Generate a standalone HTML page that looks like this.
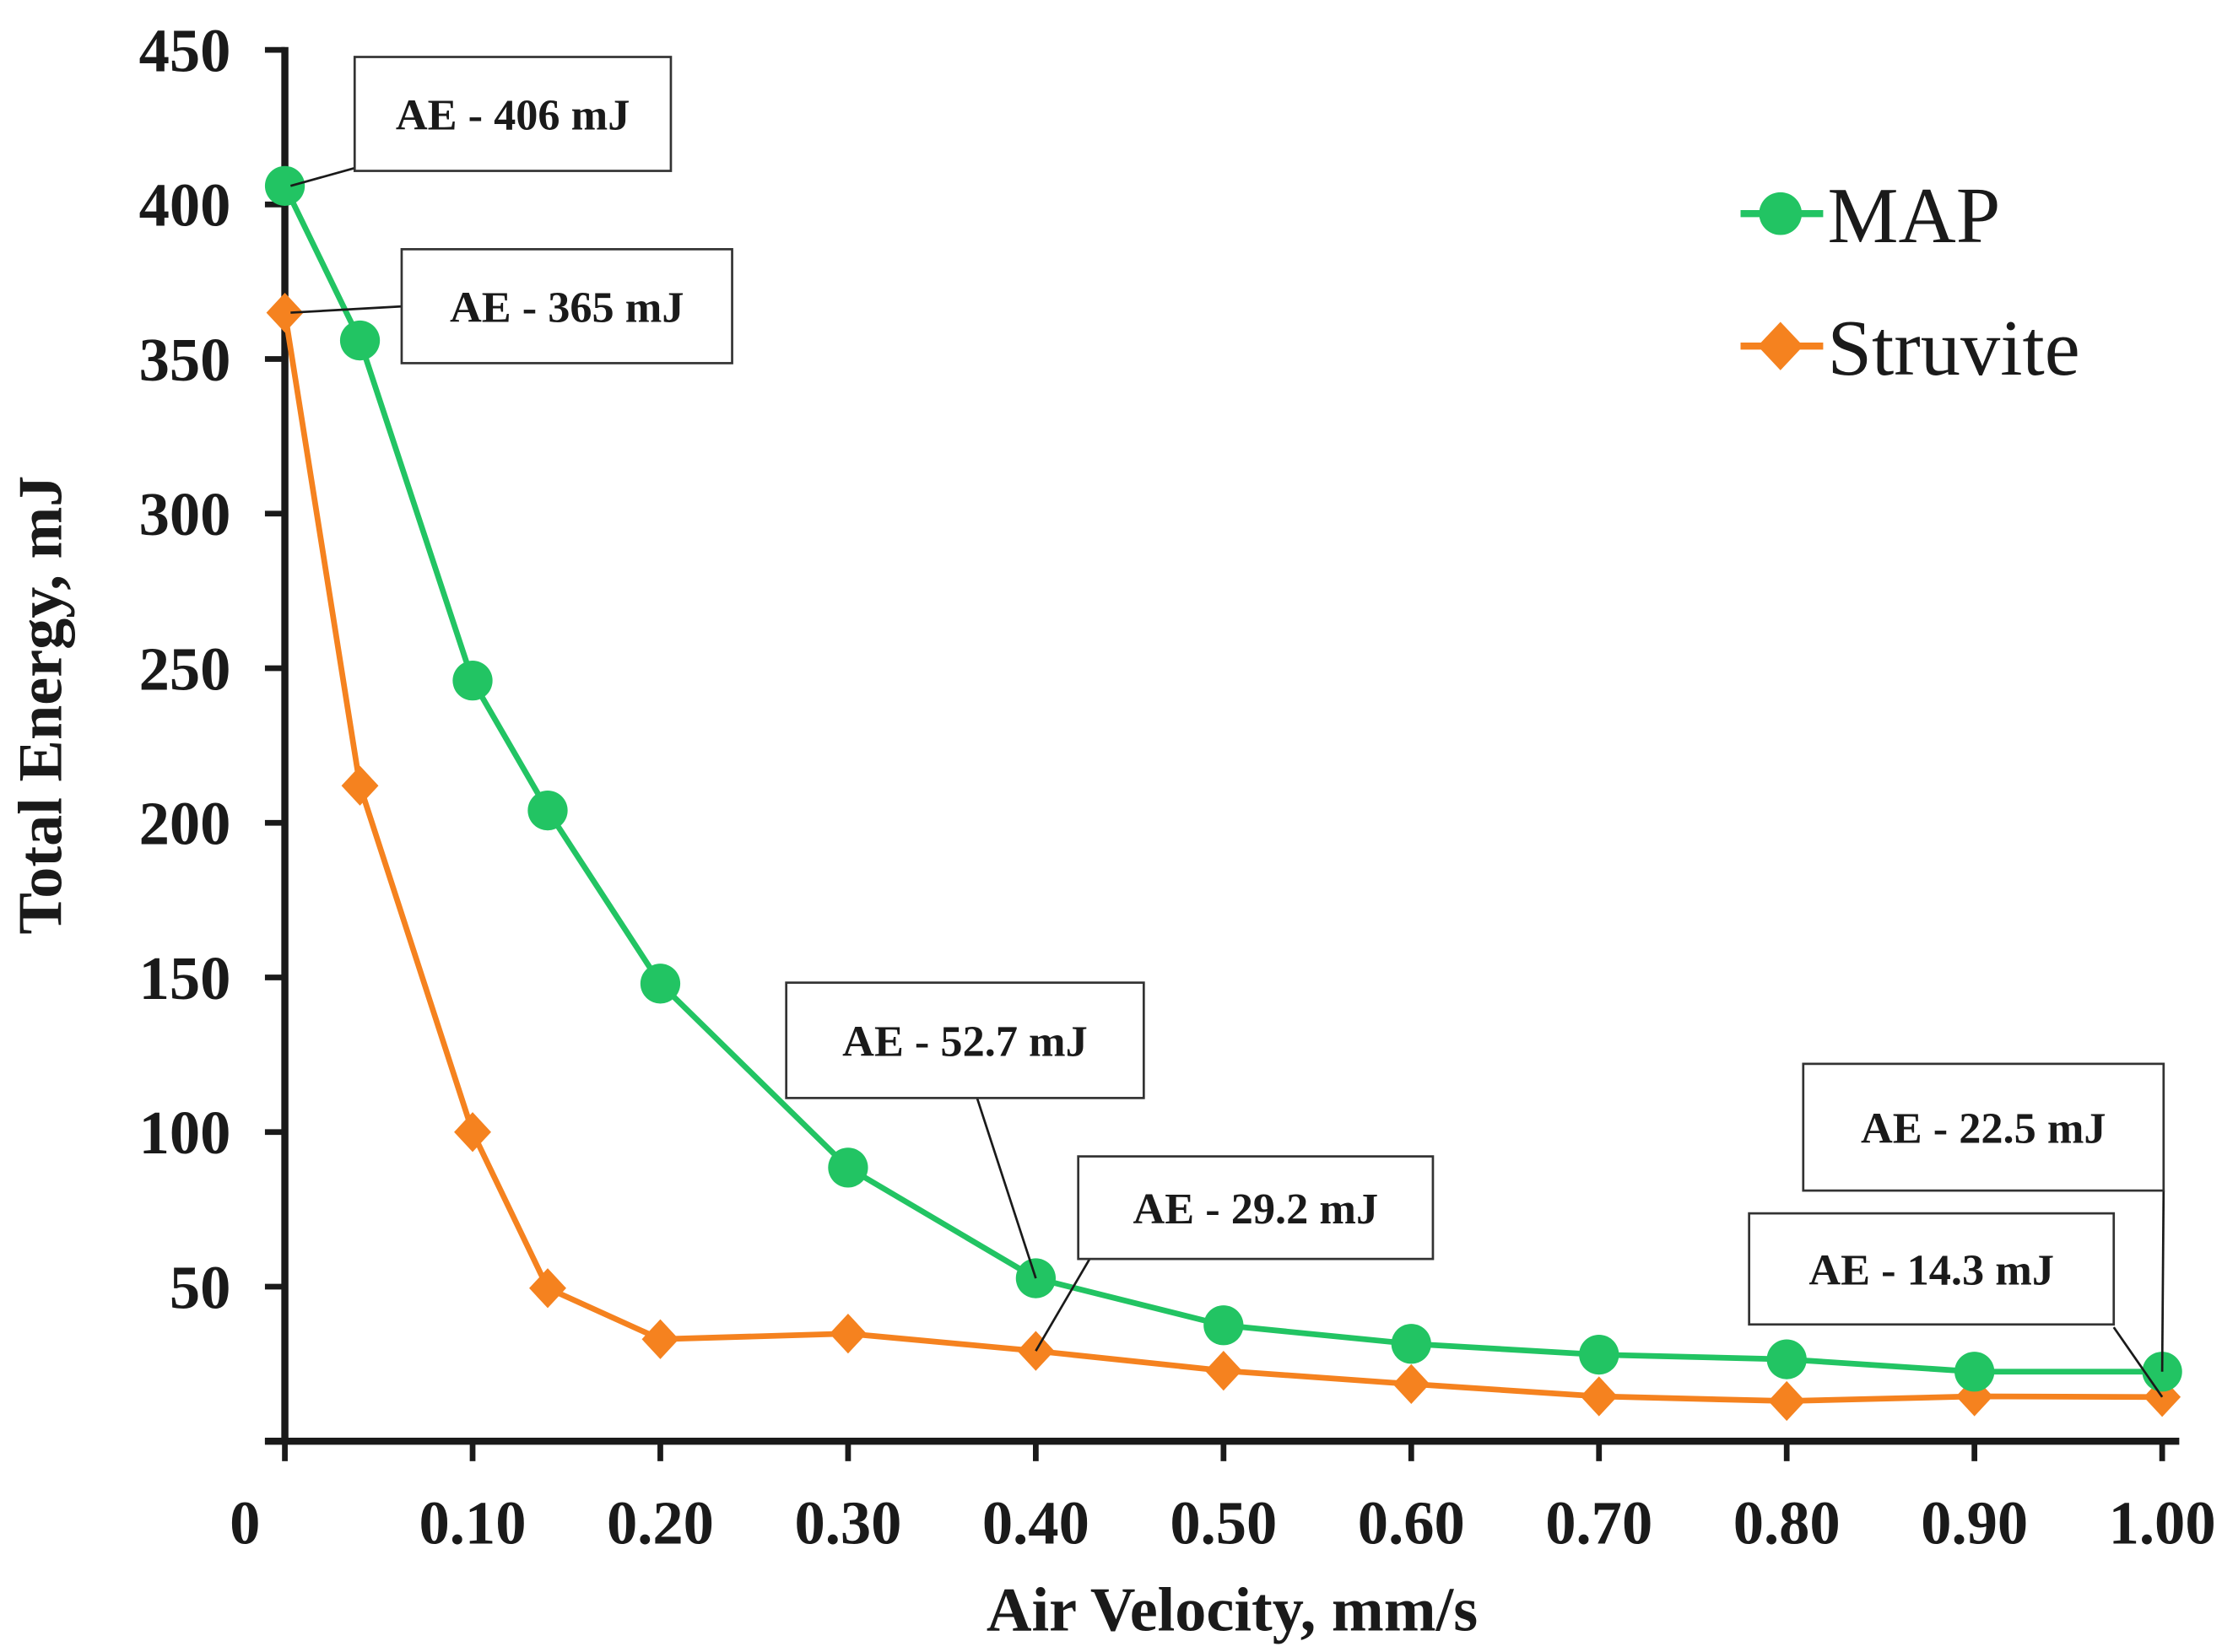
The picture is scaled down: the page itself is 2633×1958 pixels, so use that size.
<!DOCTYPE html>
<html><head><meta charset="utf-8"><style>
html,body{margin:0;padding:0;background:#fff;}
svg{display:block;}
text{font-family:"Liberation Serif",serif;fill:#1a1a1a;}
</style></head><body>
<svg id="chart" width="2633" height="1958" viewBox="0 0 1560 1160" preserveAspectRatio="none" xmlns="http://www.w3.org/2000/svg">
<g id="axes"></g>
<g id="series"></g>
<g id="annots"></g>
<g>
  <line x1="1222" y1="150" x2="1280" y2="150" stroke="#22c463" stroke-width="5"/>
  <circle cx="1250" cy="150" r="15" fill="#22c463"/>
  <text x="1283" y="170" font-size="56">MAP</text>
  <line x1="1222" y1="243" x2="1280" y2="243" stroke="#f5821f" stroke-width="5"/>
  <polygon points="1250,226 1266,243 1250,260 1234,243" fill="#f5821f"/>
  <text x="1283" y="263" font-size="56">Struvite</text>
</g>
<text x="865" y="1145" font-size="44" font-weight="bold" text-anchor="middle">Air Velocity, mm/s</text>
<text transform="translate(43,495) rotate(-90)" font-size="44" font-weight="bold" text-anchor="middle">Total Energy, mJ</text>
<script>
const xVals = [0, 0.04, 0.10, 0.14, 0.20, 0.30, 0.40, 0.50, 0.60, 0.70, 0.80, 0.90, 1.00];
const mapVals = [406, 356, 246, 204, 148, 88.5, 52.7, 37.5, 31.5, 28, 26.5, 22.5, 22.5];
const struviteVals = [365, 212, 100, 49.5, 33, 34.8, 29.2, 22.8, 18.5, 14.5, 13, 14.5, 14.3];
const yTicks = [0, 50, 100, 150, 200, 250, 300, 350, 400, 450];
const yTickLabels = ["", "50", "100", "150", "200", "250", "300", "350", "400", "450"];
const xTicks = [0, 0.1, 0.2, 0.3, 0.4, 0.5, 0.6, 0.7, 0.8, 0.9, 1.0];
const xTickLabels = ["0", "0.10", "0.20", "0.30", "0.40", "0.50", "0.60", "0.70", "0.80", "0.90", "1.00"];
const annLabels = ["AE - 406 mJ", "AE - 365 mJ", "AE - 52.7 mJ", "AE - 29.2 mJ", "AE - 22.5 mJ", "AE - 14.3 mJ"];

const NS = "http://www.w3.org/2000/svg";
const X0 = 200, X1 = 1518, Y0 = 1012, Y1 = 35;
const sx = v => X0 + (v - 0) / 1.0 * (X1 - X0);
const sy = v => Y0 - v / 450 * (Y0 - Y1);
function mk(tag, attrs, parent) {
  const el = document.createElementNS(NS, tag);
  for (const k in attrs) el.setAttribute(k, attrs[k]);
  parent.appendChild(el);
  return el;
}
const axes = document.getElementById("axes");
let el = mk("line", {x1: X0, y1: Y1 - 2, x2: X0, y2: Y0 + 2, stroke: "#1a1a1a", "stroke-width": 5}, axes);


el = mk("line", {x1: 186, y1: Y0, x2: 1530, y2: Y0, stroke: "#1a1a1a", "stroke-width": 5}, axes);


yTicks.forEach((t, i) => {
  const y = sy(t);
  const tk = mk("line", {x1: 186, y1: y, x2: X0, y2: y, stroke: "#1a1a1a", "stroke-width": 4}, axes);
  
  
  if (yTickLabels[i]) {
    const tl = mk("text", {x: 162, y: y + 15, "font-size": 43, "font-weight": "bold", "text-anchor": "end"}, axes);
    tl.textContent = yTickLabels[i];
    
    
  }
});
xTicks.forEach((t, i) => {
  const x = sx(t);
  const tk = mk("line", {x1: x, y1: Y0, x2: x, y2: Y0 + 14, stroke: "#1a1a1a", "stroke-width": 4}, axes);
  
  
  const tl = mk("text", {x: i === 0 ? 172 : x, y: 1084, "font-size": 43, "font-weight": "bold", "text-anchor": "middle"}, axes);
  tl.textContent = xTickLabels[i];
  
  
});
const series = document.getElementById("series");
function drawSeries(vals, color, kind, name) {
  const pts = vals.map((v, i) => sx(xVals[i]) + "," + sy(v)).join(" ");
  const pl = mk("polyline", {points: pts, fill: "none", stroke: color, "stroke-width": 4, "stroke-linejoin": "round"}, series);
  
  
  vals.forEach((v, i) => {
    const x = sx(xVals[i]), y = sy(v);
    let m;
    if (kind === "circle") m = mk("circle", {cx: x, cy: y, r: 14, fill: color}, series);
    else m = mk("polygon", {points: `${x},${y-14} ${x+13},${y} ${x},${y+14} ${x-13},${y}`, fill: color}, series);
    
    
  });
}
drawSeries(struviteVals, "#f5821f", "diamond", "struvite");
drawSeries(mapVals, "#22c463", "circle", "map");

const ann = document.getElementById("annots");
const boxes = [
  {b: [249, 40, 471, 120], from: [249, 118], pt: [0, mapVals[0]]},
  {b: [282, 175, 514, 255], from: [285, 215], pt: [0, struviteVals[0]]},
  {b: [552, 690, 803, 771], from: [685, 768], pt: [0.4, mapVals[6]]},
  {b: [757, 812, 1006, 884], from: [765, 884], pt: [0.4, struviteVals[6]]},
  {b: [1266, 747, 1519, 836], from: [1519, 836], pt: [1.0, mapVals[12]]},
  {b: [1228, 852, 1484, 930], from: [1484, 932], pt: [1.0, struviteVals[12]]}
];
boxes.forEach((a, i) => {
  const ln = mk("line", {x1: a.from[0], y1: a.from[1], x2: sx(a.pt[0]) + (i < 2 ? 4 : 0), y2: sy(a.pt[1]), stroke: "#1a1a1a", "stroke-width": 1.6}, ann);
  
  
  const r = mk("rect", {x: a.b[0], y: a.b[1], width: a.b[2] - a.b[0], height: a.b[3] - a.b[1], fill: "#fff", stroke: "#333", "stroke-width": 1.6}, ann);
  
  
  const t = mk("text", {x: (a.b[0] + a.b[2]) / 2, y: (a.b[1] + a.b[3]) / 2 + 11, "font-size": 31, "font-weight": "bold", "text-anchor": "middle"}, ann);
  t.textContent = annLabels[i];
  
  
});
</script>
</svg>
</body></html>
